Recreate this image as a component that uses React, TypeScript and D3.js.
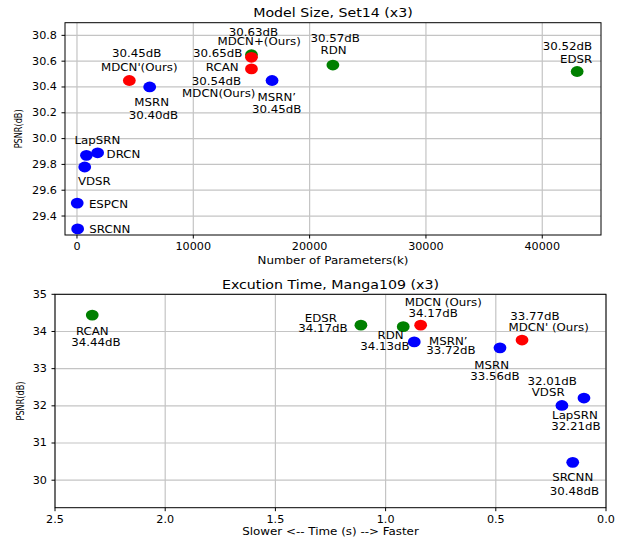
import * as d3 from 'd3'
import React, { useEffect, useRef } from 'react'

// ---- data: model size chart (Set14 x3) ----
const sizeNames = ['SRCNN', 'ESPCN', 'VDSR', 'LapSRN', 'DRCN', 'MSRN', "MDCN'", 'RCAN', 'MDCN+', 'MDCN', "MSRN'", 'RDN', 'EDSR']
const sizeParams = [57, 20, 665, 813, 1774, 6250, 4500, 15000, 15000, 15000, 16770, 22000, 43000]
const sizePsnr = [29.3, 29.5, 29.78, 29.87, 29.89, 30.4, 30.45, 30.65, 30.63, 30.54, 30.45, 30.57, 30.52]
const sizeColors = ['b', 'b', 'b', 'b', 'b', 'b', 'r', 'g', 'r', 'r', 'b', 'g', 'g']
const sizeLabels = [
  ['SRCNN'],
  ['ESPCN'],
  ['VDSR'],
  ['LapSRN'],
  ['DRCN'],
  ['MSRN', '30.40dB'],
  ['30.45dB', "MDCN'(Ours)"],
  ['30.65dB', 'RCAN'],
  ['30.63dB', 'MDCN+(Ours)'],
  ['30.54dB', 'MDCN(Ours)'],
  ['MSRN’', '30.45dB'],
  ['30.57dB', 'RDN'],
  ['30.52dB', 'EDSR'],
]
const sizeXTicks = [0, 10000, 20000, 30000, 40000]
const sizeYTicks = [29.4, 29.6, 29.8, 30.0, 30.2, 30.4, 30.6, 30.8]

// ---- data: execution time chart (Manga109 x3) ----
const timeNames = ['RCAN', 'EDSR', 'RDN', 'MDCN', "MSRN'", "MDCN'", 'MSRN', 'VDSR', 'LapSRN', 'SRCNN']
const timeSeconds = [2.331, 1.112, 0.92, 0.841, 0.87, 0.381, 0.481, 0.2, 0.1, 0.151]
const timePsnr = [34.44, 34.17, 34.13, 34.17, 33.72, 33.77, 33.56, 32.01, 32.21, 30.48]
const timeColors = ['g', 'g', 'g', 'r', 'b', 'r', 'b', 'b', 'b', 'b']
const timeLabels = [
  ['RCAN', '34.44dB'],
  ['EDSR', '34.17dB'],
  ['RDN', '34.13dB'],
  ['MDCN (Ours)', '34.17dB'],
  ['MSRN’', '33.72dB'],
  ['33.77dB', "MDCN' (Ours)"],
  ['MSRN', '33.56dB'],
  ['32.01dB', 'VDSR'],
  ['LapSRN', '32.21dB'],
  ['SRCNN', '30.48dB'],
]
const timeXTicks = [2.5, 2.0, 1.5, 1.0, 0.5, 0.0]
const timeYTicks = [30, 31, 32, 33, 34, 35]

// label placement (pixel offsets from the marker, one [dx, dy, anchor] per text line)
type Off = [number, number, string]
const sizeLabelOffsets: Off[][] = [
  [[11.7, 0.5, 'start']],
  [[11.7, 1, 'start']],
  [[9.6, 14, 'middle']],
  [[11, -15, 'middle']],
  [[9, 1.7, 'start']],
  [[2, 15.7, 'middle'], [3.7, 28.7, 'middle']],
  [[7.4, -27, 'middle'], [10, -13.6, 'middle']],
  [[-9, -1, 'end'], [-29.3, 12.4, 'middle']],
  [[2, -25.3, 'middle'], [7.7, -16, 'middle']],
  [[-35, 12, 'middle'], [-32.7, 24.6, 'middle']],
  [[4.7, 16.7, 'middle'], [4.7, 28.7, 'middle']],
  [[2.3, -26.7, 'middle'], [0.6, -15, 'middle']],
  [[15, -25.3, 'end'], [15, -12.3, 'end']],
]
const timeLabelOffsets: Off[][] = [
  [[0, 16.7, 'middle'], [3.7, 27.4, 'middle']],
  [[-40, -7.3, 'middle'], [-38, 2.7, 'middle']],
  [[-12.6, 8.6, 'middle'], [-18.3, 20, 'middle']],
  [[22.6, -22.7, 'middle'], [12.6, -11.7, 'middle']],
  [[34, -0.7, 'middle'], [36.7, 8.6, 'middle']],
  [[13, -24, 'middle'], [26.7, -12.3, 'middle']],
  [[-8.3, 18, 'middle'], [-5, 28.3, 'middle']],
  [[-9.7, -24.6, 'middle'], [-13.7, -13.3, 'middle']],
  [[-9, 17.6, 'middle'], [-8, 28, 'middle']],
  [[0, 14.7, 'middle'], [1.6, 28.7, 'middle']],
]

const colorMap: Record<string, string> = { b: '#0000ff', r: '#ff0000', g: '#008000' }
const font = '"DejaVu Sans", sans-serif'
// the source figure is a little squashed vertically
const squash = 0.86

interface PanelSpec {
  title: string
  xLabel: string
  box: { left: number; right: number; top: number; bottom: number }
  xDomain: [number, number]
  yDomain: [number, number]
  xTicks: number[]
  yTicks: number[]
  xFmt: (v: number) => string
  yFmt: (v: number) => string
  xs: number[]
  ys: number[]
  colors: string[]
  labels: string[][]
  offsets: Off[][]
  titleY: number
  xLabelY: number
  yLabelX: number
}

type Sel = d3.Selection<SVGGElement, unknown, null, undefined>

const addText = (g: Sel, x: number, y: number, t: string, size: number, anchor = 'middle') =>
  g
    .append('text')
    .attr('transform', `translate(${x},${y}) scale(1,${squash})`)
    .attr('dy', '0.36em')
    .attr('text-anchor', anchor)
    .attr('font-size', size)
    .attr('font-family', font)
    .attr('fill', '#000')
    .text(t)

const drawPanel = (svg: d3.Selection<SVGSVGElement, unknown, null, undefined>, p: PanelSpec) => {
  const { left, right, top, bottom } = p.box
  const x = d3.scaleLinear().domain(p.xDomain).range([left, right])
  const y = d3.scaleLinear().domain(p.yDomain).range([bottom, top])
  const g = svg.append('g')

  // grid
  g.selectAll('.gx')
    .data(p.xTicks)
    .enter()
    .append('line')
    .attr('x1', (d) => x(d))
    .attr('x2', (d) => x(d))
    .attr('y1', top)
    .attr('y2', bottom)
    .attr('stroke', '#c4c4c4')
    .attr('stroke-width', 1.2)
  g.selectAll('.gy')
    .data(p.yTicks)
    .enter()
    .append('line')
    .attr('x1', left)
    .attr('x2', right)
    .attr('y1', (d) => y(d))
    .attr('y2', (d) => y(d))
    .attr('stroke', '#c4c4c4')
    .attr('stroke-width', 1.2)

  // markers
  g.selectAll('.pt')
    .data(p.xs)
    .enter()
    .append('ellipse')
    .attr('cx', (d) => x(d))
    .attr('cy', (d, i) => y(p.ys[i]))
    .attr('rx', 6.4)
    .attr('ry', 5.4)
    .attr('fill', (d, i) => colorMap[p.colors[i]])

  // annotations
  p.labels.forEach((lines, i) => {
    const px = x(p.xs[i])
    const py = y(p.ys[i])
    lines.forEach((t, j) => {
      const [dx, dy, anchor] = p.offsets[i][j]
      addText(g, px + dx, py + dy, t, 11.8, anchor)
    })
  })

  // spines
  g.append('rect')
    .attr('x', left)
    .attr('y', top)
    .attr('width', right - left)
    .attr('height', bottom - top)
    .attr('fill', 'none')
    .attr('stroke', '#000')
    .attr('stroke-width', 1)

  // ticks
  p.xTicks.forEach((t) => {
    g.append('line')
      .attr('x1', x(t))
      .attr('x2', x(t))
      .attr('y1', bottom)
      .attr('y2', bottom + 3.5)
      .attr('stroke', '#000')
    addText(g, x(t), bottom + 11.5, p.xFmt(t), 11.2)
  })
  p.yTicks.forEach((t) => {
    g.append('line')
      .attr('x1', left - 3.5)
      .attr('x2', left)
      .attr('y1', y(t))
      .attr('y2', y(t))
      .attr('stroke', '#000')
    addText(g, left - 8, y(t), p.yFmt(t), 11.2, 'end')
  })

  // title and axis labels
  addText(g, (left + right) / 2, p.titleY, p.title, 14.2)
  addText(g, (left + right) / 2, p.xLabelY, p.xLabel, 11.9)
  g.append('text')
    .attr('transform', `translate(${p.yLabelX},${(top + bottom) / 2}) rotate(-90)`)
    .attr('dy', '0.36em')
    .attr('text-anchor', 'middle')
    .attr('font-size', 10)
    .attr('font-family', font)
    .attr('textLength', 39)
    .attr('lengthAdjust', 'spacingAndGlyphs')
    .text('PSNR(dB)')
}

const App: React.FC = () => {
  const ref = useRef<SVGSVGElement>(null)

  useEffect(() => {
    if (!ref.current) return
    const svg = d3.select(ref.current)
    svg.selectAll('*').remove()

    svg.append('rect').attr('width', 624).attr('height', 539).attr('fill', '#fff')

    drawPanel(svg, {
      title: 'Model Size, Set14 (x3)',
      xLabel: 'Number of Parameters(k)',
      box: { left: 65, right: 601, top: 22.7, bottom: 235 },
      xDomain: [-1030, 45050],
      yDomain: [29.253, 30.898],
      xTicks: sizeXTicks,
      yTicks: sizeYTicks,
      xFmt: (v) => String(v),
      yFmt: (v) => v.toFixed(1),
      xs: sizeParams,
      ys: sizePsnr,
      colors: sizeColors,
      labels: sizeLabels,
      offsets: sizeLabelOffsets,
      titleY: 12.5,
      xLabelY: 260,
      yLabelX: 18,
    })

    drawPanel(svg, {
      title: 'Excution Time, Manga109 (x3)',
      xLabel: 'Slower <-- Time (s) --> Faster',
      box: { left: 55, right: 606, top: 294.3, bottom: 507.7 },
      xDomain: [2.5, 0],
      yDomain: [29.26, 35],
      xTicks: timeXTicks,
      yTicks: timeYTicks,
      xFmt: (v) => v.toFixed(1),
      yFmt: (v) => String(v),
      xs: timeSeconds,
      ys: timePsnr,
      colors: timeColors,
      labels: timeLabels,
      offsets: timeLabelOffsets,
      titleY: 285,
      xLabelY: 531.5,
      yLabelX: 20,
    })
  }, [])

  return (
    <svg
      ref={ref}
      width={624}
      height={539}
      style={{ display: 'block', position: 'absolute', left: 0, top: 0 }}
    />
  )
}

export default App
